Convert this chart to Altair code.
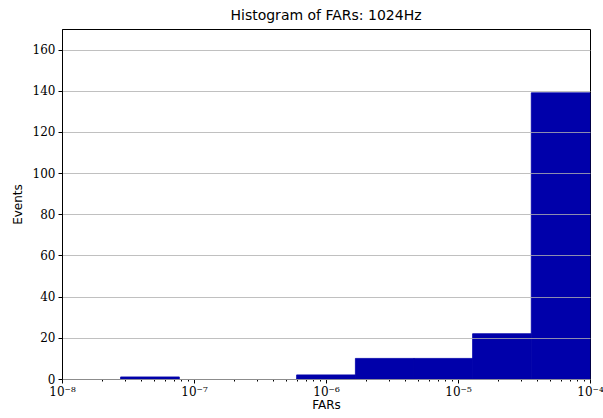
import altair as alt
import pandas as pd

# histogram bins (log-spaced) and counts
bin_left = [1e-8, 2.78e-8, 7.74e-8, 2.15e-7, 5.99e-7, 1.67e-6, 4.64e-6, 1.29e-5, 3.59e-5]
bin_right = [2.78e-8, 7.74e-8, 2.15e-7, 5.99e-7, 1.67e-6, 4.64e-6, 1.29e-5, 3.59e-5, 1e-4]
counts = [0, 1, 0, 0, 2, 10, 10, 22, 139]

major_ticks = [1e-8, 1e-7, 1e-6, 1e-5, 1e-4]
minor_mult = [2, 3, 4, 5, 6, 7, 8, 9]
x_ticks = sorted(major_ticks + [m * d for d in major_ticks[:-1] for m in minor_mult])
y_ticks = [0, 20, 40, 60, 80, 100, 120, 140, 160]

df = pd.DataFrame({"left": bin_left, "right": bin_right, "count": counts})
df = df[df["count"] > 0]

is_major = "abs(log(datum.value)/LN10 - round(log(datum.value)/LN10)) < 0.01"
label_expr = (
    f"({is_major}) ? '10' + replace(replace(replace(replace(replace(replace("
    "toString(round(log(datum.value)/LN10)), '-', '⁻'), '8', '⁸'), '7', '⁷'), '6', '⁶'), '5', '⁵'), '4', '⁴') : ''"
)

chart = alt.Chart(df).mark_bar(color="#0000aa", stroke="#0000aa", strokeWidth=0.8).encode(
    x=alt.X(
        "left:Q",
        scale=alt.Scale(type="log", domain=[1e-8, 1e-4], nice=False),
        axis=alt.Axis(
            title="FARs",
            values=x_ticks,
            labelExpr=label_expr,
            tickSize={"condition": {"test": is_major, "value": 4}, "value": 2},
            grid=False,
            domainColor="black",
            tickColor="black",
            labelFont="DejaVu Serif",
            labelFontSize=12,
            labelColor="black",
            labelPadding=3,
            titleFont="DejaVu Sans",
            titleFontSize=12,
            titleFontWeight="normal",
            titleColor="black",
            titlePadding=2,
            labelFlush=False,
            labelOverlap=False,
        ),
    ),
    x2="right:Q",
    y=alt.Y(
        "count:Q",
        scale=alt.Scale(domain=[0, 170], nice=False, zero=True),
        axis=alt.Axis(
            title="Events",
            values=y_ticks,
            grid=True,
            gridColor="#b0b0b0",
            gridWidth=0.8,
            domainColor="black",
            tickColor="black",
            tickSize=4,
            labelFont="DejaVu Serif",
            labelFontSize=12,
            labelColor="black",
            labelPadding=3,
            titleFont="DejaVu Sans",
            titleFontSize=12,
            titleFontWeight="normal",
            titleColor="black",
            titlePadding=8,
            zindex=1,
        ),
    ),
    y2=alt.datum(0),
).properties(
    width=528,
    height=350,
    title=alt.TitleParams(
        "Histogram of FARs: 1024Hz",
        font="DejaVu Sans",
        fontSize=14,
        fontWeight="normal",
        color="black",
        offset=6,
    ),
    autosize=alt.AutoSizeParams(type="none"),
    padding={"left": 62, "top": 29, "right": 13, "bottom": 39},
).configure_view(stroke="black", strokeWidth=1)

chart.save("out.html", embed_options={"renderer": "svg", "actions": False})
